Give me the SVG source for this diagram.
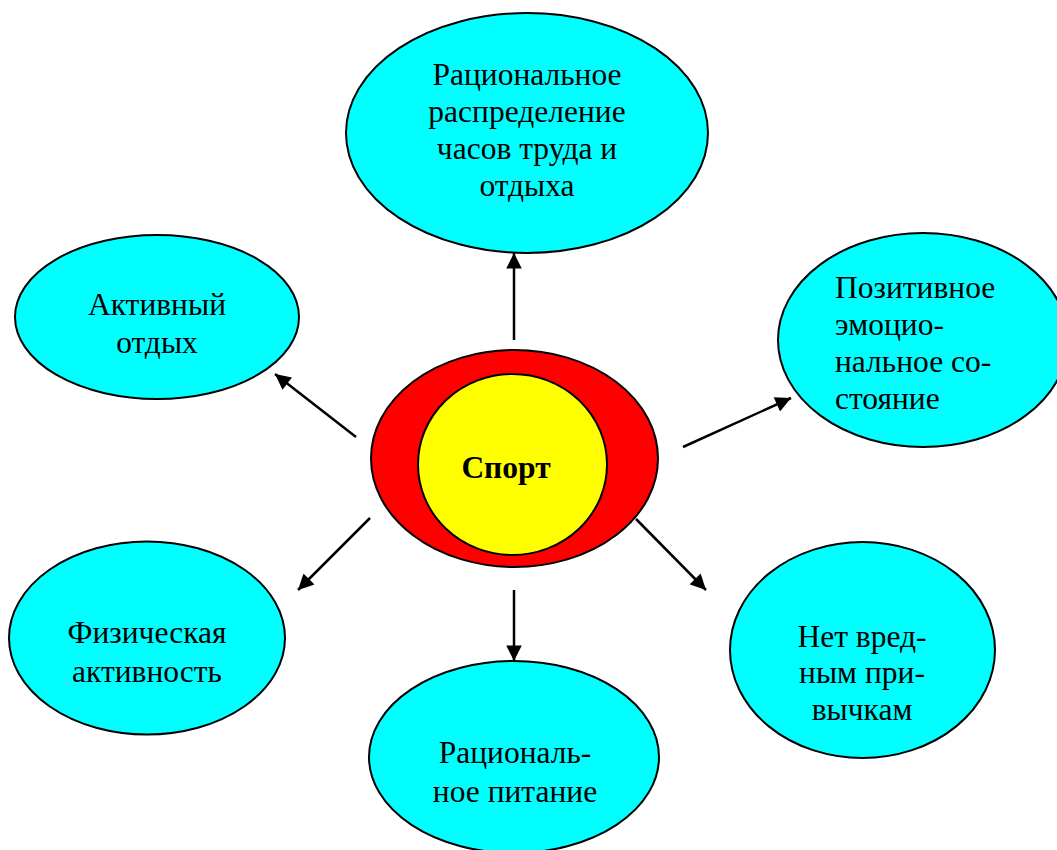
<svg xmlns="http://www.w3.org/2000/svg" width="1057" height="850" viewBox="0 0 1057 850">
<style>
.node{fill:#00FFFF;stroke:#000;stroke-width:2}
.t{font-family:"Liberation Serif","Times New Roman",serif;font-size:31.5px;fill:#000}
.c{text-anchor:middle}
.conn line{stroke:#000;stroke-width:2.5}
</style>
<defs>
<marker id="ah" viewBox="0 0 10 10" refX="10" refY="5" markerWidth="6.6" markerHeight="6.2" orient="auto" markerUnits="strokeWidth">
<path d="M0,0 L10,5 L0,10 z" fill="#000"/>
</marker>
<clipPath id="clipR"><rect x="770" y="230" width="287" height="179"/></clipPath>
<clipPath id="clipRB"><rect x="720" y="540" width="287" height="181"/></clipPath>
</defs>
<rect width="1057" height="850" fill="#fff"/>
<g id="n-top">
<ellipse class="node" cx="527" cy="133" rx="181" ry="120"/>
<text class="t c" x="527" y="85">Рациональное</text>
<text class="t c" x="527" y="122">распределение</text>
<text class="t c" x="527" y="159">часов труда и</text>
<text class="t c" x="527" y="196">отдыха</text>
</g>
<g id="n-active">
<ellipse class="node" cx="157" cy="317" rx="142" ry="82"/>
<text class="t c" x="157" y="315">Активный</text>
<text class="t c" x="157" y="353">отдых</text>
</g>
<g id="n-positive">
<ellipse class="node" cx="923" cy="340" rx="145" ry="107"/>
<g clip-path="url(#clipR)">
<text class="t" x="835" y="298">Позитивное</text>
<text class="t" x="835" y="335">эмоцио-</text>
<text class="t" x="835" y="372">нальное со-</text>
<text class="t" x="835" y="409">стояние</text>
</g>
</g>
<g id="n-sport">
<ellipse cx="514.5" cy="458.5" rx="143.5" ry="108.5" fill="#FF0000" stroke="#000" stroke-width="2"/>
<ellipse cx="512.5" cy="464.5" rx="94.5" ry="90.5" fill="#FFFF00" stroke="#000" stroke-width="2"/>
<text class="t c" x="506" y="478" font-weight="bold" font-size="35">Спорт</text>
</g>
<g id="n-physical">
<ellipse class="node" cx="147" cy="638" rx="138" ry="96.5"/>
<text class="t c" x="147" y="643">Физическая</text>
<text class="t c" x="147" y="682">активность</text>
</g>
<g id="n-food">
<ellipse class="node" cx="514" cy="757" rx="145" ry="96"/>
<text class="t c" x="515" y="763">Рациональ-</text>
<text class="t c" x="515" y="802">ное питание</text>
</g>
<g id="n-habits">
<ellipse class="node" cx="862.5" cy="650" rx="132.5" ry="108"/>
<g clip-path="url(#clipRB)">
<text class="t c" x="862" y="647">Нет вред-</text>
<text class="t c" x="862" y="683">ным при-</text>
<text class="t c" x="862" y="720">вычкам</text>
</g>
</g>
<g id="connectors" class="conn">
<line x1="514" y1="340" x2="514" y2="253" marker-end="url(#ah)"/>
<line x1="356" y1="437" x2="275" y2="374" marker-end="url(#ah)"/>
<line x1="683" y1="447" x2="791" y2="398" marker-end="url(#ah)"/>
<line x1="370" y1="518" x2="298" y2="590" marker-end="url(#ah)"/>
<line x1="514" y1="590" x2="514" y2="661" marker-end="url(#ah)"/>
<line x1="636" y1="519" x2="706" y2="590" marker-end="url(#ah)"/>
</g>
</svg>
